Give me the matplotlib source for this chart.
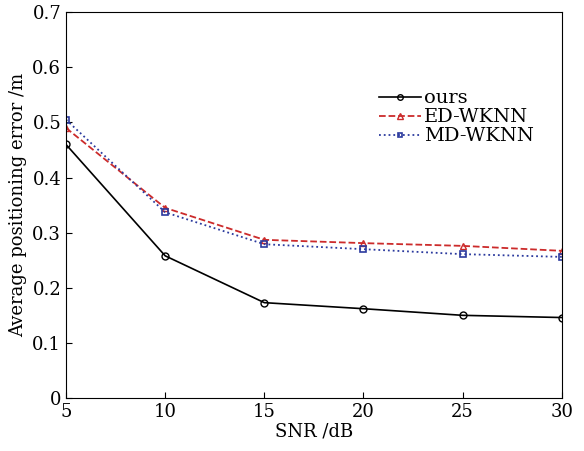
import numpy as np
import matplotlib
matplotlib.use("Agg")
import matplotlib.pyplot as plt

# SNR values and average positioning error of each method
snr = [5, 10, 15, 20, 25, 30]
err_ours = [0.460, 0.258, 0.173, 0.162, 0.150, 0.146]
err_ed = [0.490, 0.345, 0.287, 0.281, 0.276, 0.267]
err_md = [0.505, 0.337, 0.279, 0.270, 0.261, 0.256]

plt.rcParams['font.family'] = ['DejaVu Serif']
plt.rcParams['mathtext.fontset'] = 'dejavuserif'

fig = plt.figure(figsize=(5.84, 4.51), dpi=100)
ax = fig.add_axes([0.113, 0.1175, 0.849, 0.8555])

ax.plot(snr, err_ours, '-', color='black', lw=1.2, marker='o', ms=5,
        mfc='none', mew=1.0, label='ours')
ax.plot(snr, err_ed, '--', color='#cc2b2b', lw=1.3, marker='^', ms=5,
        mfc='none', mew=1.0, label='ED-WKNN')
ax.plot(snr, err_md, ':', color='#2b3a9e', lw=1.3, marker='s', ms=4,
        mfc='none', mew=1.2, label='MD-WKNN')

ax.set_xlim(5, 30)
ax.set_ylim(0, 0.7)
ax.set_xticks(np.arange(5, 31, 5))
ax.set_yticks(np.arange(0, 0.71, 0.1))
ax.set_yticklabels(['0', '0.1', '0.2', '0.3', '0.4', '0.5', '0.6', '0.7'])
ax.tick_params(direction='in', labelsize=13, length=4, width=0.8)
ax.set_xlabel('SNR /dB', fontsize=13, labelpad=1)
ax.set_ylabel('Average positioning error /m', fontsize=13, labelpad=4)

leg = ax.legend(loc='upper left', bbox_to_anchor=(0.615, 0.82), frameon=False,
                fontsize=14, handlelength=2.2, handletextpad=0.15,
                labelspacing=0.05, borderaxespad=0, markerscale=0.8)

plt.savefig('out.png', dpi=100)
